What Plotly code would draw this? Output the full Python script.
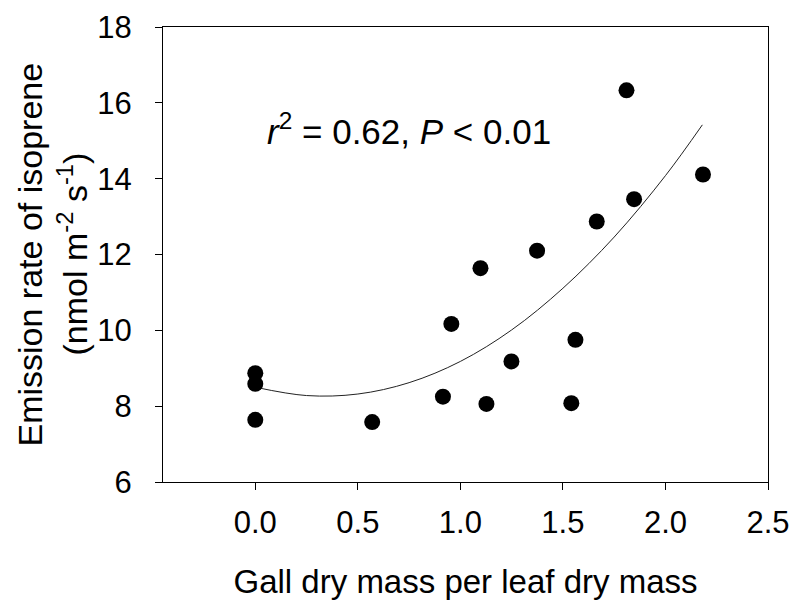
import plotly.graph_objects as go

# Observed data points
gall_ratio = [0.0, 0.0, 0.0, 0.57, 0.915, 0.956, 1.098, 1.127, 1.249, 1.374, 1.541, 1.561, 1.665, 1.81, 1.847, 2.183]
emission = [8.87, 8.59, 7.64, 7.58, 8.25, 10.17, 11.64, 8.06, 9.18, 12.10, 8.08, 9.75, 12.87, 16.33, 13.46, 14.11]

# Fitted curve
fit_x = [0.0, 0.25, 0.5, 0.75, 1.0, 1.25, 1.5, 1.75, 2.0, 2.18]
fit_y = [8.50, 8.28, 8.32, 8.62, 9.18, 10.01, 11.11, 12.46, 14.08, 15.42]

x_ticks = [0.0, 0.5, 1.0, 1.5, 2.0, 2.5]
x_tick_labels = ["0.0", "0.5", "1.0", "1.5", "2.0", "2.5"]
y_ticks = [6, 8, 10, 12, 14, 16, 18]

FONT = "Liberation Sans, Arial, sans-serif"

fig = go.Figure()
fig.add_trace(go.Scatter(x=fit_x, y=fit_y, mode="lines", line=dict(color="#222222", width=1, shape="spline"),
                         hoverinfo="skip", showlegend=False))
fig.add_trace(go.Scatter(x=gall_ratio, y=emission, mode="markers",
                         marker=dict(color="black", size=16), showlegend=False))

fig.add_annotation(x=0.047, y=15.3, xref="x", yref="y", xanchor="left", yanchor="middle",
                   text="<i>r</i><sup>2</sup> = 0.62, <i>P</i> &lt; 0.01", showarrow=False,
                   font=dict(family=FONT, size=35, color="black"))

# y-axis title, two rotated lines
fig.add_annotation(x=0, y=0.5, xref="paper", yref="paper", xanchor="center", yanchor="middle",
                   xshift=-134, textangle=-90, showarrow=False,
                   text="Emission rate of isoprene",
                   font=dict(family=FONT, size=34, color="black"))
fig.add_annotation(x=0, y=0.5, xref="paper", yref="paper", xanchor="center", yanchor="middle",
                   xshift=-91, textangle=-90, showarrow=False,
                   text="(nmol m<sup>-2</sup> s<sup>-1</sup>)",
                   font=dict(family=FONT, size=34, color="black"))

fig.update_layout(
    width=792, height=606,
    margin=dict(l=155, r=32, t=19, b=132),
    plot_bgcolor="white", paper_bgcolor="white",
    font=dict(family=FONT, size=31, color="black"),
    xaxis=dict(range=[-0.45, 2.5], tickvals=x_ticks, ticktext=x_tick_labels, automargin=False,
               showgrid=False, zeroline=False, showline=True, linecolor="black", linewidth=1,
               mirror=True, ticks="outside", ticklen=7, tickcolor="black", tickwidth=1,
               ticklabelstandoff=6, ticklabeloverflow="allow",
               title=dict(text="Gall dry mass per leaf dry mass", standoff=30,
                          font=dict(size=33))),
    yaxis=dict(range=[6, 18], tickvals=y_ticks, automargin=False,
               showgrid=False, zeroline=False, showline=True, linecolor="black", linewidth=1,
               mirror=True, ticks="outside", ticklen=7, tickcolor="black", tickwidth=1,
               ticklabelstandoff=17, ticklabeloverflow="allow"),
)

fig.write_html("out.html")
